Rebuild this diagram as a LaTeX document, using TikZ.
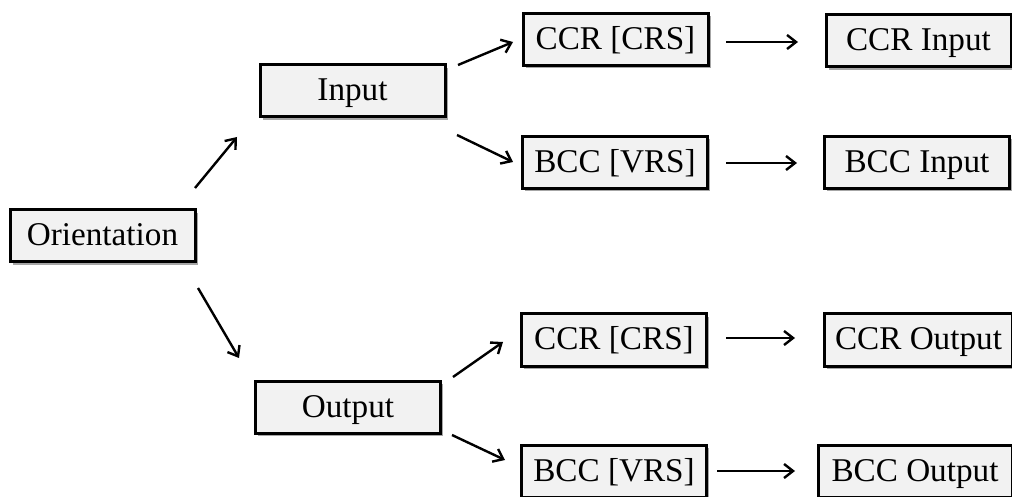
\documentclass[tikz,border=0pt]{standalone}
\usepackage{fontspec}
\setmainfont{Liberation Serif}
\usetikzlibrary{shadows,arrows.meta}
\definecolor{boxfill}{HTML}{F2F2F2}
\begin{document}
\begin{tikzpicture}[x=0.5pt,y=-0.5pt,
  box/.style={draw=black, line width=1.5pt, fill=boxfill, minimum width=92.5pt, minimum height=26pt, inner sep=0pt,
    text height=17pt, text depth=7pt,
    font=\fontsize{16.6}{19}\selectfont,
    drop shadow={shadow xshift=1.4pt, shadow yshift=-1.4pt, fill=black, opacity=0.35}},
  arr/.style={line width=1.2pt, -{Straight Barb[length=4.5pt,width=7pt,line width=1.2pt]}}]
\useasboundingbox (0,0) rectangle (1012,497);
\clip (0,0) rectangle (1012,497);
\node[box] (orient) at (102.5,236) {Orientation};
\node[box] (input) at (352.5,91) {Input};
\node[box] (output) at (348,407.5) {Output};
\node[box] (ccrA) at (615.5,39.5) {CCR [CRS]};
\node[box] (bccA) at (615,162.5) {BCC [VRS]};
\node[box] (ccrB) at (614,340) {CCR [CRS]};
\node[box] (bccB) at (614,471) {BCC [VRS]};
\node[box] (ccrIn) at (918.5,41) {CCR Input};
\node[box] (bccIn) at (917,162.5) {BCC Input};
\node[box, minimum width=94pt] (ccrOut) at (918.5,340) {CCR Output};
\node[box, minimum width=97pt] (bccOut) at (915,471) {BCC Output};
% connector end points
\coordinate (o1s) at (195,188); \coordinate (o1e) at (237,137);
\coordinate (o2s) at (198,288); \coordinate (o2e) at (239,358);
\coordinate (i1s) at (458,65);  \coordinate (i1e) at (513,42);
\coordinate (i2s) at (457,135); \coordinate (i2e) at (513,162);
\coordinate (u1s) at (453,377); \coordinate (u1e) at (503,342);
\coordinate (u2s) at (452,435); \coordinate (u2e) at (505,460);
\coordinate (h1s) at (726,42);  \coordinate (h1e) at (798,42);
\coordinate (h2s) at (726,163); \coordinate (h2e) at (797,163);
\coordinate (h3s) at (726,338); \coordinate (h3e) at (795,338);
\coordinate (h4s) at (717,471); \coordinate (h4e) at (795,471);
\draw[arr] (o1s) -- (o1e);
\draw[arr] (o2s) -- (o2e);
\draw[arr] (i1s) -- (i1e);
\draw[arr] (i2s) -- (i2e);
\draw[arr] (u1s) -- (u1e);
\draw[arr] (u2s) -- (u2e);
\draw[arr] (h1s) -- (h1e);
\draw[arr] (h2s) -- (h2e);
\draw[arr] (h3s) -- (h3e);
\draw[arr] (h4s) -- (h4e);
\end{tikzpicture}
\end{document}
